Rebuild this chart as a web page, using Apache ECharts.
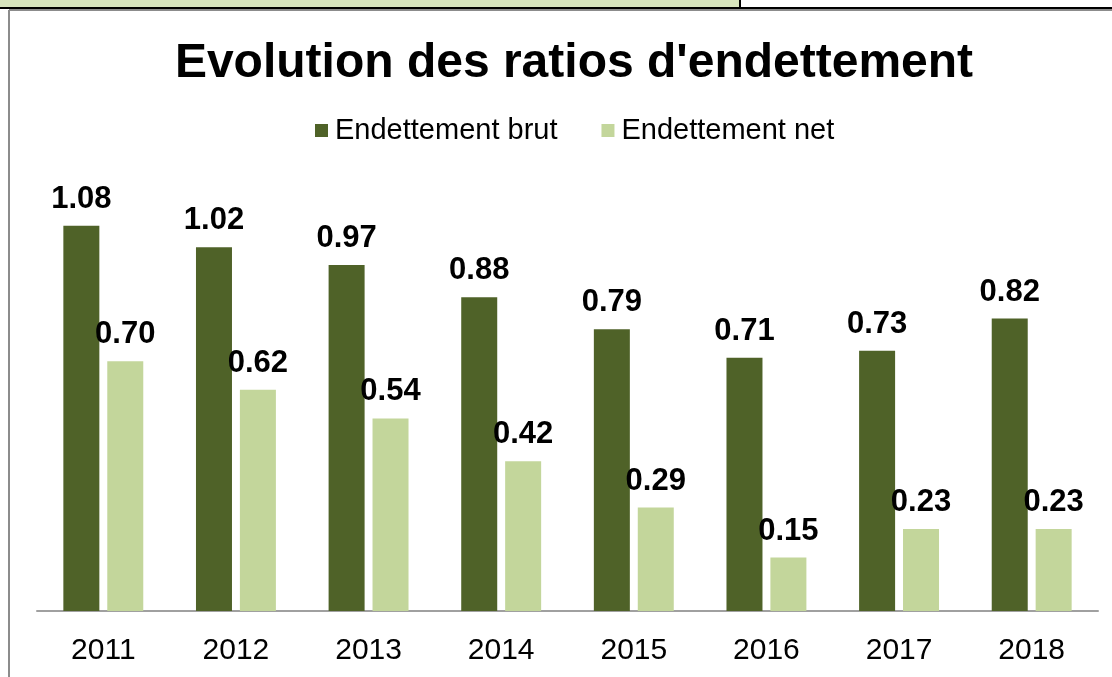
<!DOCTYPE html>
<html><head><meta charset="utf-8">
<script src="https://cdn.jsdelivr.net/npm/echarts@6/dist/echarts.min.js"></script>
<style>html,body{margin:0;padding:0;background:#fff}#c{width:1112px;height:677px}</style>
</head><body><div id="c"></div>
<script>
const categories = ['2011','2012','2013','2014','2015','2016','2017','2018'];
const brut = [1.08, 1.02, 0.97, 0.88, 0.79, 0.71, 0.73, 0.82];
const net = [0.70, 0.62, 0.54, 0.42, 0.29, 0.15, 0.23, 0.23];
const seriesNames = ['Endettement brut', 'Endettement net'];
const titleText = "Evolution des ratios d'endettement";

const chart = echarts.init(document.getElementById('c'));
const lbl = {show:true, position:'top', distance:11, color:'#000', fontFamily:'Liberation Sans, Arial', fontWeight:'bold', fontSize:31, formatter: p => p.value.toFixed(2)};
chart.setOption({
  animation:false,
  graphic:[
    {type:'rect', shape:{x:0,y:0,width:740,height:8}, style:{fill:'#d7e4bd'}},
    {type:'line', shape:{x1:0,y1:8,x2:1112,y2:8}, style:{stroke:'#000',lineWidth:2}},
    {type:'line', shape:{x1:740,y1:0,x2:740,y2:8}, style:{stroke:'#000',lineWidth:2}},
    {type:'line', shape:{x1:9,y1:10,x2:1112,y2:10}, style:{stroke:'#8c8c8c',lineWidth:2}},
    {type:'line', shape:{x1:9,y1:10,x2:9,y2:677}, style:{stroke:'#8c8c8c',lineWidth:2}}
  ],
  title:{text:titleText, left:569, textAlign:'center', top:35, textStyle:{fontFamily:'Liberation Sans, Arial', fontWeight:'bold', fontSize:48, color:'#000'}},
  legend:{data:seriesNames, top:111, left:310, itemWidth:13, itemHeight:13, itemGap:44, icon:'rect',
    textStyle:{fontFamily:'Liberation Sans, Arial', fontSize:29, color:'#000', padding:[0,0,0,2]}},
  grid:{left:37, right:14, top:183, bottom:66},
  xAxis:{type:'category', data:categories, axisLine:{lineStyle:{color:'#a0a0a0', width:2}}, axisTick:{show:false},
    axisLabel:{fontFamily:'Liberation Sans, Arial', fontSize:30, color:'#000', margin:25}},
  yAxis:{type:'value', min:0, max:1.2, show:false, splitLine:{show:false}},
  series:[
    {name:seriesNames[0], type:'bar', data:brut, barWidth:36, barGap:'22%', itemStyle:{color:'#4f6228'}, label:lbl},
    {name:seriesNames[1], type:'bar', data:net, barWidth:36, itemStyle:{color:'#c3d69b'}, label:lbl}
  ]
});
</script></body></html>
